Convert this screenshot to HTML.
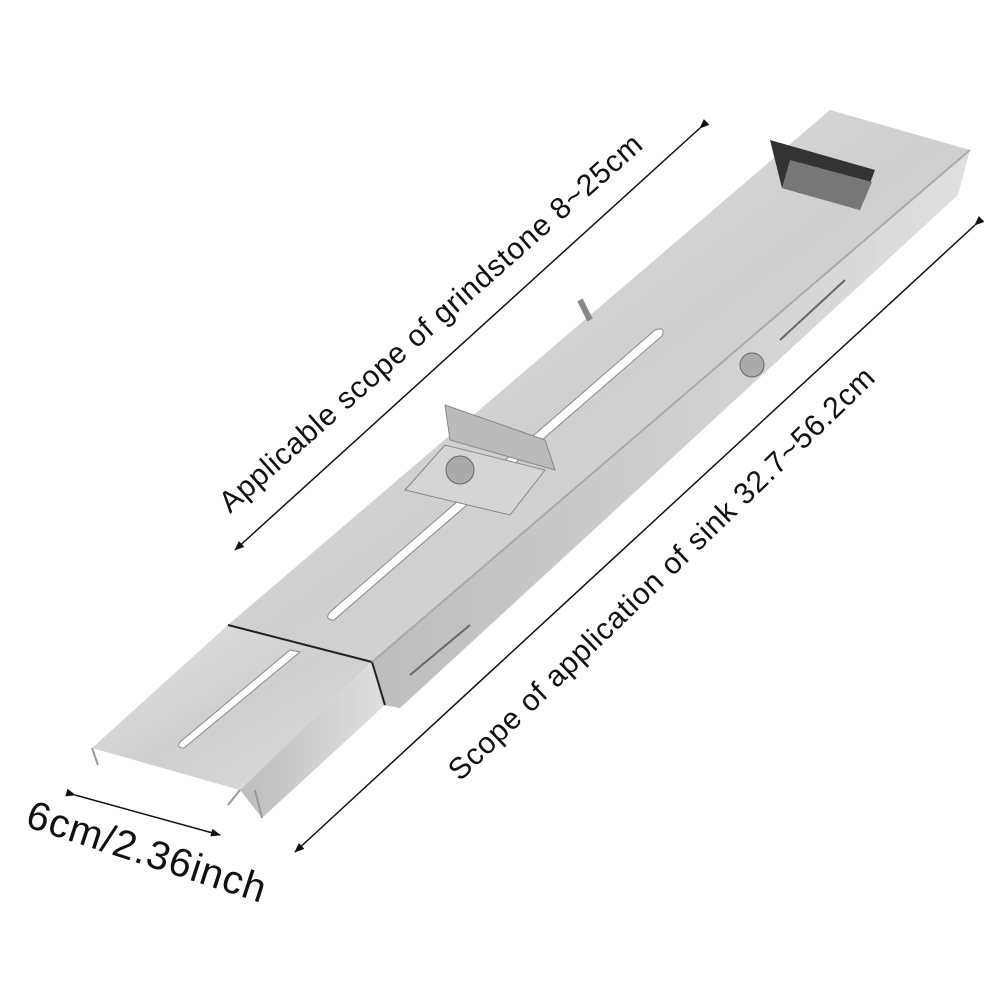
<!DOCTYPE html>
<html><head><meta charset="utf-8"><style>
html,body{margin:0;padding:0;background:#fff}
svg{display:block}
text{font-family:"Liberation Sans","DejaVu Sans",sans-serif;fill:#111}
</style></head><body>
<svg width="1002" height="1002" viewBox="0 0 1002 1002" xmlns="http://www.w3.org/2000/svg">
<defs>
<linearGradient id="g1" x1="0" y1="0" x2="1" y2="1">
<stop offset="0" stop-color="#e6e6e6"/><stop offset="0.5" stop-color="#cfcfcf"/><stop offset="1" stop-color="#dcdcdc"/>
</linearGradient>
<linearGradient id="g2" x1="0" y1="0" x2="1" y2="0">
<stop offset="0" stop-color="#bdbdbd"/><stop offset="1" stop-color="#e0e0e0"/>
</linearGradient>
<marker id="ar" markerWidth="10" markerHeight="8" refX="9" refY="4" orient="auto" markerUnits="userSpaceOnUse">
<path d="M0,0 L10,4 L0,8 z" fill="#111"/></marker>
</defs>

<polygon points="228,625 372,662 240,790 92,748" fill="url(#g1)"/>
<polygon points="372,662 385,705 262,818 240,790" fill="url(#g2)"/>
<path d="M92,748 L98,765 M255,790 L262,818 M240,790 L228,805" stroke="#999" stroke-width="2" fill="none"/>
<path d="M290,650 L180,742 Q176,748 184,748 L300,652 Z" fill="#fff" stroke="#888" stroke-width="1"/>

<polygon points="970,150 958,195 400,708 383,705 372,662" fill="url(#g2)"/>
<polygon points="830,110 970,150 372,662 228,625" fill="url(#g1)"/>
<path d="M228,625 L372,662 L385,705" stroke="#222" stroke-width="2" fill="none"/>
<path d="M970,150 L372,662" stroke="#aaa" stroke-width="2" fill="none"/>
<path d="M655,330 L330,612 Q324,620 334,620 L662,336 Q666,326 655,330 Z" fill="#fff" stroke="#888"/>
<path d="M845,280 L780,340" stroke="#666" stroke-width="2"/>
<path d="M470,625 L410,675" stroke="#666" stroke-width="2"/>
<polygon points="770,140 875,170 860,210 782,188" fill="#333"/>
<polygon points="782,188 860,210 872,182 790,160" fill="#777"/>
<polygon points="405,490 510,515 545,470 445,445" fill="#d5d5d5" stroke="#888"/>
<polygon points="445,405 545,440 555,470 450,440" fill="#bbb" stroke="#888"/>
<circle cx="460" cy="470" r="14" fill="#aaa" stroke="#666"/>
<circle cx="752" cy="365" r="12" fill="#aaa" stroke="#666"/>
<path d="M580,300 L590,320" stroke="#888" stroke-width="6"/>

<line x1="700" y1="128" x2="235" y2="550" stroke="#111" stroke-width="1.5" marker-end="url(#ar)" marker-start="url(#ar)"/>
<line x1="975" y1="225" x2="295" y2="852" stroke="#111" stroke-width="1.5" marker-end="url(#ar)" marker-start="url(#ar)"/>
<line x1="75" y1="795" x2="220" y2="835" stroke="#111" stroke-width="1.5" marker-end="url(#ar)" marker-start="url(#ar)"/>

<text x="0" y="0" font-size="30" letter-spacing="0.8" transform="translate(230,514) rotate(-41.5)">Applicable scope of grindstone 8~25cm</text>
<text x="0" y="0" font-size="30" letter-spacing="0.8" transform="translate(460,782) rotate(-44)">Scope of application of sink 32.7~56.2cm</text>
<text x="0" y="0" font-size="40" letter-spacing="1" transform="translate(24,826) rotate(18)">6cm/2.36inch</text>
</svg>
</body></html>
